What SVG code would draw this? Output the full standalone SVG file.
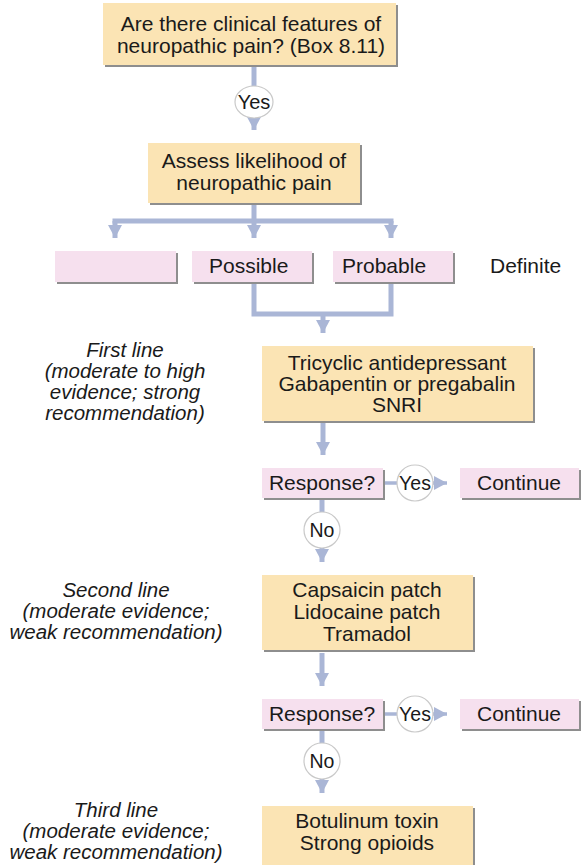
<svg xmlns="http://www.w3.org/2000/svg" width="581" height="865" viewBox="0 0 581 865">
<defs>
<style>
.y{fill:#fbe4b4}
.p{fill:#f6e0ee}
.sh{fill:#8e8e8e}
.t{font-family:"Liberation Sans",Arial,sans-serif;font-size:21px;fill:#1a1a1a;text-anchor:middle}
.ts{font-family:"Liberation Sans",Arial,sans-serif;font-size:21px;fill:#1a1a1a}
.it{font-family:"Liberation Sans",Arial,sans-serif;font-size:20.5px;font-style:italic;fill:#1a1a1a;text-anchor:middle}
.c{fill:#fff;stroke:#c9c9c9;stroke-width:1.2}
.ln{fill:none;stroke:#aab6d6;stroke-width:5}
.lt{fill:none;stroke:#aab6d6;stroke-width:3.5}
</style>
<marker id="ah" markerUnits="userSpaceOnUse" markerWidth="16" markerHeight="14" refX="13" refY="7" orient="auto">
<path d="M0,0 L13,7 L0,14 z" fill="#aab6d6"/>
</marker>
</defs>
<rect width="581" height="865" fill="#fff"/>

<g id="connectors">
<path class="ln" d="M254,66 V86"/>
<path class="ln" d="M254,118 V130" marker-end="url(#ah)"/>
<path class="ln" d="M254,203 V221 M112.5,221 H393.5"/>
<path class="ln" d="M115,221 V238" marker-end="url(#ah)"/>
<path class="ln" d="M254,221 V238" marker-end="url(#ah)"/>
<path class="ln" d="M391,221 V238" marker-end="url(#ah)"/>
<path class="ln" d="M254,283 V314 H391 V283"/>
<path class="ln" d="M323,314 V333" marker-end="url(#ah)"/>
<path class="ln" d="M323,423 V455" marker-end="url(#ah)"/>
<path class="lt" d="M384,483 H397"/>
<path class="lt" d="M433,483 H447" marker-end="url(#ah)"/>
<path class="ln" d="M322,499 V512"/>
<path class="ln" d="M322,548 V562" marker-end="url(#ah)"/>
<path class="ln" d="M322,653 V686" marker-end="url(#ah)"/>
<path class="lt" d="M384,714 H397"/>
<path class="lt" d="M433,714 H447" marker-end="url(#ah)"/>
<path class="ln" d="M322,730 V743"/>
<path class="ln" d="M322,779 V793" marker-end="url(#ah)"/>
</g>

<g id="q1">
<rect class="sh" x="105" y="5" width="293" height="62"/>
<rect class="y" x="103" y="3" width="293" height="62"/>
<text class="t" x="251" y="31">Are there clinical features of</text>
<text class="t" x="251" y="53">neuropathic pain? (Box 8.11)</text>
</g>

<g id="yes0">
<ellipse class="c" cx="254" cy="102" rx="19" ry="16"/>
<text class="t" x="254" y="109" style="font-size:20px">Yes</text>
</g>

<g id="assess">
<rect class="sh" x="150" y="145" width="212" height="60"/>
<rect class="y" x="148" y="143" width="212" height="60"/>
<text class="t" x="254" y="168">Assess likelihood of</text>
<text class="t" x="254" y="190">neuropathic pain</text>
</g>

<g id="empty">
<rect class="sh" x="57" y="253" width="121" height="31"/>
<rect class="p" x="55" y="251" width="121" height="31"/>
</g>

<g id="possible">
<rect class="sh" x="194" y="253" width="120" height="31"/>
<rect class="p" x="192" y="251" width="120" height="31"/>
<text class="ts" x="209" y="273">Possible</text>
</g>

<g id="probable">
<rect class="sh" x="335" y="253" width="120" height="31"/>
<rect class="p" x="333" y="251" width="120" height="31"/>
<text class="ts" x="342" y="273">Probable</text>
</g>

<g id="definite">
<text class="ts" x="490" y="273">Definite</text>
</g>

<g id="first-label">
<text class="it" x="125" y="357">First line</text>
<text class="it" x="125" y="378">(moderate to high</text>
<text class="it" x="125" y="399">evidence; strong</text>
<text class="it" x="125" y="420">recommendation)</text>
</g>

<g id="first">
<rect class="sh" x="264" y="348" width="271" height="75"/>
<rect class="y" x="262" y="346" width="271" height="75"/>
<text class="t" x="397" y="370">Tricyclic antidepressant</text>
<text class="t" x="397" y="391">Gabapentin or pregabalin</text>
<text class="t" x="397" y="412">SNRI</text>
</g>

<g id="resp1">
<rect class="sh" x="264" y="470" width="121" height="30"/>
<rect class="p" x="262" y="468" width="121" height="30"/>
<text class="t" x="322" y="490">Response?</text>
</g>

<g id="yes1">
<circle class="c" cx="415" cy="483" r="18"/>
<text class="t" x="415" y="490" style="font-size:19.5px">Yes</text>
</g>

<g id="cont1">
<rect class="sh" x="462" y="470" width="121" height="30"/>
<rect class="p" x="460" y="468" width="119" height="30"/>
<text class="t" x="519" y="490">Continue</text>
</g>

<g id="no1">
<circle class="c" cx="322" cy="530" r="18"/>
<text class="t" x="322" y="537" style="font-size:19.5px">No</text>
</g>

<g id="second-label">
<text class="it" x="116" y="597">Second line</text>
<text class="it" x="116" y="618">(moderate evidence;</text>
<text class="it" x="116" y="639">weak recommendation)</text>
</g>

<g id="second">
<rect class="sh" x="264" y="577" width="211" height="75"/>
<rect class="y" x="262" y="575" width="211" height="75"/>
<text class="t" x="367" y="597">Capsaicin patch</text>
<text class="t" x="367" y="619">Lidocaine patch</text>
<text class="t" x="367" y="641">Tramadol</text>
</g>

<g id="resp2">
<rect class="sh" x="264" y="701" width="121" height="30"/>
<rect class="p" x="262" y="699" width="121" height="30"/>
<text class="t" x="322" y="721">Response?</text>
</g>

<g id="yes2">
<circle class="c" cx="415" cy="714" r="18"/>
<text class="t" x="415" y="721" style="font-size:19.5px">Yes</text>
</g>

<g id="cont2">
<rect class="sh" x="462" y="701" width="121" height="30"/>
<rect class="p" x="460" y="699" width="119" height="30"/>
<text class="t" x="519" y="721">Continue</text>
</g>

<g id="no2">
<circle class="c" cx="322" cy="761" r="18"/>
<text class="t" x="322" y="768" style="font-size:19.5px">No</text>
</g>

<g id="third-label">
<text class="it" x="116" y="817">Third line</text>
<text class="it" x="116" y="838">(moderate evidence;</text>
<text class="it" x="116" y="859">weak recommendation)</text>
</g>

<g id="third">
<rect class="sh" x="264" y="808" width="211" height="60"/>
<rect class="y" x="262" y="806" width="211" height="60"/>
<text class="t" x="367" y="828">Botulinum toxin</text>
<text class="t" x="367" y="850">Strong opioids</text>
</g>
</svg>
